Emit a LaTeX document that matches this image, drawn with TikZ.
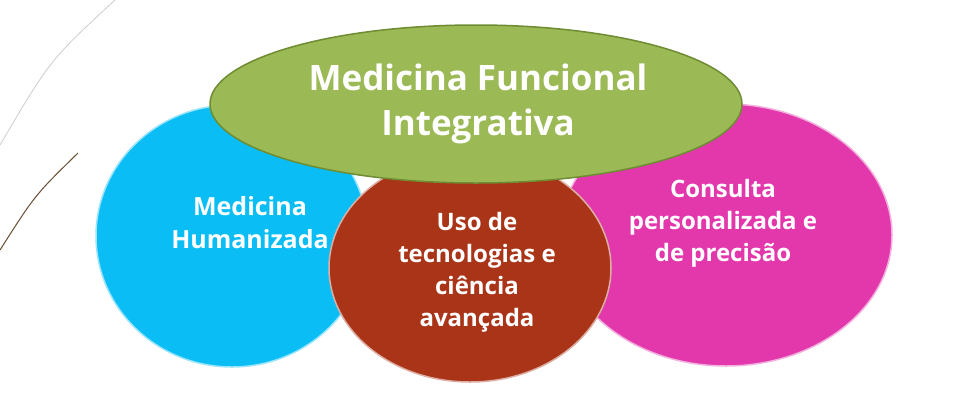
\documentclass[tikz,border=0pt]{standalone}
\usepackage{fontspec}
\setmainfont{Open Sans}
\usetikzlibrary{shapes.geometric}
\definecolor{cblue}{RGB}{10,190,245}
\definecolor{cpink}{RGB}{226,56,172}
\definecolor{cred}{RGB}{170,52,24}
\definecolor{cgreen}{RGB}{155,185,85}
\definecolor{cgreenD}{RGB}{110,140,50}
\begin{document}
\begin{tikzpicture}[x=1pt,y=-1pt,
  bub/.style={ellipse, draw=white!60!#1, line width=1.5pt, fill=#1, inner sep=0pt},
  lbl/.style={text=white, align=center, font=\bfseries\fontsize{24}{32}\selectfont}]
\useasboundingbox (0,0) rectangle (961,418);
\draw[gray!40, line width=0.8pt] (115,0) .. controls (50,60) .. (0,145);
\draw[black!50!brown!80!gray, line width=1pt] (78,153) .. controls (35,195) .. (0,250);
\node[bub=cblue, minimum width=272pt, minimum height=262pt] (b) at (232,236) {};
\node[lbl, font=\bfseries\fontsize{25}{33}\selectfont] (bt) at (250,223) {Medicina\\Humanizada};
\node[bub=cpink, minimum width=332pt, minimum height=262pt] (p) at (726,235) {};
\node[lbl] (pt) at (723,223) {Consulta\\personalizada e\\de precisão};
\node[bub=cred, minimum width=282pt, minimum height=228pt] (r) at (470,268) {};
\node[lbl] (rt) at (477,272) {Uso de\\tecnologias e\\ciência\\avançada};
\node[bub=cgreen, draw=cgreenD, minimum width=532pt, minimum height=158pt] (g) at (476,104) {};
\node[lbl, font=\bfseries\fontsize{35}{45}\selectfont] (gt) at (478,104) {Medicina Funcional\\Integrativa};
\end{tikzpicture}
\end{document}
